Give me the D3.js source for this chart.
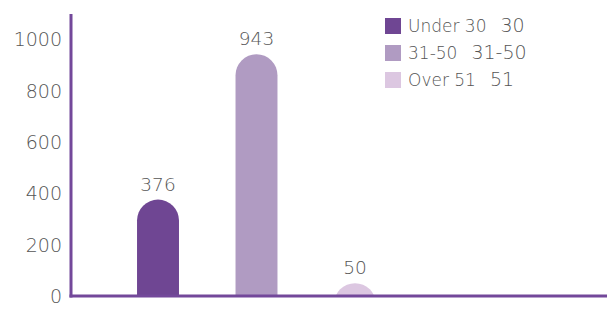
<!DOCTYPE html>
<html>
<head>
<meta charset="utf-8">
<script src="https://cdn.jsdelivr.net/npm/d3@7"></script>
<style>
	body { margin: 0; background: #fff; }
	svg text { font-family: 'DejaVu Sans', sans-serif; font-weight: 200; fill: #555; }
</style>
</head>
<body>
<div id="chart"></div>
<script>
const categories = ['Under 30', '31-50', 'Over 51']
const values = [376, 943, 50]
const legendExtra = ['30', '31-50', '51']
const tickValues = [0, 200, 400, 600, 800, 1000]
const colors = ['#6f4693', '#b09bc2', '#dcc7e1']

const width = 613
const height = 309
const axisColor = '#73489a'

const svg = d3.select('#chart').append('svg').attr('width', width).attr('height', height)

const x = d3.scaleBand().domain(categories).range([80.5, 432.5]).padding(0.574)
const y = d3.scaleLinear().domain([0, 1100]).range([296, 14])

// clip everything under the baseline so rounded caps get cut off
svg.append('defs').append('clipPath').attr('id', 'plotClip')
	.append('rect').attr('x', 0).attr('y', 0).attr('width', width).attr('height', y(0))

const bars = svg.append('g').attr('clip-path', 'url(#plotClip)')
bars.selectAll('rect')
	.data(values)
	.enter()
	.append('rect')
	.attr('x', (d, i) => x(categories[i]))
	.attr('y', (d) => y(d))
	.attr('width', x.bandwidth())
	.attr('height', (d) => y(0) - y(d) + x.bandwidth())
	.attr('rx', x.bandwidth() / 2)
	.attr('fill', (d, i) => colors[i])

// value labels
svg.selectAll('.valueLabel')
	.data(values)
	.enter()
	.append('text')
	.attr('class', 'valueLabel')
	.attr('x', (d, i) => x(categories[i]) + x.bandwidth() / 2)
	.attr('y', (d) => y(d) - 9)
	.attr('text-anchor', 'middle')
	.style('font-size', '18.5px')
	.text((d) => d)

// y tick labels
svg.selectAll('.tickLabel')
	.data(tickValues)
	.enter()
	.append('text')
	.attr('class', 'tickLabel')
	.attr('x', 62)
	.attr('y', (d) => y(d))
	.attr('dy', '0.36em')
	.attr('text-anchor', 'end')
	.style('font-size', '19px')
	.text((d) => d)

// axes
svg.append('line')
	.attr('x1', 71).attr('x2', 71)
	.attr('y1', 14).attr('y2', y(0) + 1.5)
	.attr('stroke', axisColor).attr('stroke-width', 3)
svg.append('line')
	.attr('x1', 69.5).attr('x2', 607)
	.attr('y1', y(0)).attr('y2', y(0))
	.attr('stroke', axisColor).attr('stroke-width', 3)

// legend
const legend = svg.append('g').attr('transform', 'translate(385,18)')
const rows = legend.selectAll('g')
	.data(categories)
	.enter()
	.append('g')
	.attr('transform', (d, i) => 'translate(0,' + i * 27 + ')')
rows.append('rect').attr('width', 16).attr('height', 16).attr('fill', (d, i) => colors[i])
const lt = rows.append('text')
	.attr('x', 23)
	.attr('y', 8)
	.attr('dy', '0.36em')
	.style('font-size', '17px')
lt.append('tspan').text((d) => d)
lt.append('tspan').attr('dx', 14).style('font-size', '19px').text((d, i) => legendExtra[i])
</script>
</body>
</html>
